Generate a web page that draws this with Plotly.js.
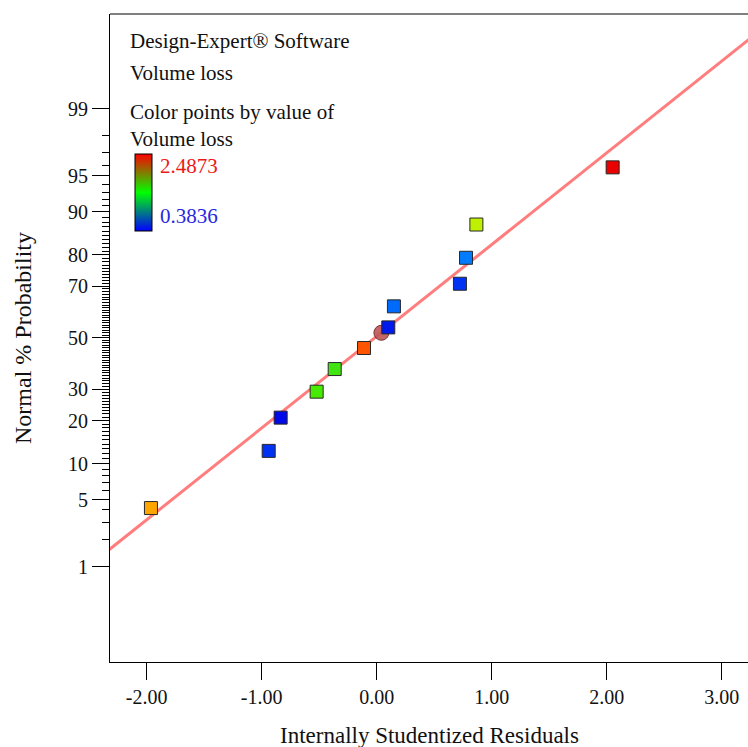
<!DOCTYPE html>
<html>
<head>
<meta charset="utf-8">
<script src="https://cdn.plot.ly/plotly-3.0.1.min.js"></script>
<style>html,body{margin:0;padding:0;background:#fff;}#chart{width:748px;height:747px;}</style>
</head>
<body>
<div id="chart"></div>
<script>
// ---- data ----
const residuals = [-1.963, -0.939, -0.835, -0.522, -0.365, -0.110, 0.101, 0.150, 0.724, 0.777, 0.867, 2.052];
const normalPct = [4.17, 12.5, 20.83, 29.17, 37.5, 45.83, 54.17, 62.5, 70.83, 79.17, 87.5, 95.83];
const volumeLoss = [2.067, 0.594, 0.42, 1.435, 1.40, 2.277, 0.489, 0.804, 0.594, 0.867, 1.856, 2.4873];
const centerResidual = [0.041];
const centerPct = [52.0];
const fitResidual = [-2.4, 3.3];
const fitPct = [1.31, 99.90];
const volumeMin = 0.3836;
const volumeMax = 2.4873;
const xTickVals = [-2, -1, 0, 1, 2, 3];
const xTickText = ['-2.00', '-1.00', '0.00', '1.00', '2.00', '3.00'];
const yTickPct = [1, 5, 10, 20, 30, 50, 70, 80, 90, 95, 99];
const yTickText = ['1', '5', '10', '20', '30', '50', '70', '80', '90', '95', '99'];
const yMinorPct = Array.from({length: 99}, (_, i) => i + 1).filter(v => !yTickPct.includes(v));

// ---- probability (probit) scale ----
function normInv(p) {
  const a = [-3.969683028665376e+01, 2.209460984245205e+02, -2.759285104469687e+02, 1.383577518672690e+02, -3.066479806614716e+01, 2.506628277459239e+00];
  const b = [-5.447609879822406e+01, 1.615858368580409e+02, -1.556989798598866e+02, 6.680131188771972e+01, -1.328068155288572e+01];
  const c = [-7.784894002430293e-03, -3.223964580411365e-01, -2.400758277161838e+00, -2.549732539343734e+00, 4.374664141464968e+00, 2.938163982698783e+00];
  const d = [7.784695709041462e-03, 3.224671290700398e-01, 2.445134137142996e+00, 3.754408661907416e+00];
  const pl = 0.02425, ph = 1 - pl;
  let q, r;
  if (p < pl) {
    q = Math.sqrt(-2 * Math.log(p));
    return (((((c[0]*q+c[1])*q+c[2])*q+c[3])*q+c[4])*q+c[5]) / ((((d[0]*q+d[1])*q+d[2])*q+d[3])*q+1);
  }
  if (p <= ph) {
    q = p - 0.5; r = q * q;
    return (((((a[0]*r+a[1])*r+a[2])*r+a[3])*r+a[4])*r+a[5])*q / (((((b[0]*r+b[1])*r+b[2])*r+b[3])*r+b[4])*r+1);
  }
  q = Math.sqrt(-2 * Math.log(1 - p));
  return -(((((c[0]*q+c[1])*q+c[2])*q+c[3])*q+c[4])*q+c[5]) / ((((d[0]*q+d[1])*q+d[2])*q+d[3])*q+1);
}
const probit = pct => normInv(pct / 100);

const FONT = 'Liberation Serif, Times New Roman, serif';
const pointScale = [[0,'rgb(0,0,230)'],[0.12,'rgb(0,60,245)'],[0.25,'rgb(0,135,255)'],[0.5,'rgb(70,235,0)'],[0.7,'rgb(190,240,0)'],[0.8,'rgb(255,165,0)'],[0.9,'rgb(255,85,0)'],[1,'rgb(235,0,0)']];
const barScale = [[0,'rgb(0,0,255)'],[0.5,'rgb(0,255,0)'],[1,'rgb(255,0,0)']];

const traces = [
  { // colour legend bar
    type: 'scatter', mode: 'markers', x: residuals, y: normalPct.map(probit),
    hoverinfo: 'skip', showlegend: false,
    marker: { opacity: 0, color: volumeLoss, cmin: volumeMin, cmax: volumeMax, colorscale: barScale, showscale: true,
      colorbar: { thickness: 17, thicknessmode: 'pixels', len: 77, lenmode: 'pixels',
        x: 0.039, xanchor: 'left', y: 0.7245, yanchor: 'middle', xpad: 0, ypad: 0,
        outlinewidth: 1, outlinecolor: '#000', borderwidth: 0, showticklabels: false, ticks: '' } }
  },
  { // fitted normal line
    type: 'scatter', mode: 'lines', x: fitResidual, y: fitPct.map(probit), showlegend: false,
    line: { color: 'rgb(255,125,125)', width: 3 }, hoverinfo: 'skip'
  },
  { // highlighted run
    type: 'scatter', mode: 'markers', x: centerResidual, y: centerPct.map(probit), showlegend: false,
    marker: { symbol: 'circle', size: 15, color: 'rgba(190,85,85,0.9)', line: { color: 'rgb(120,50,50)', width: 1 } }
  },
  { // residual points
    type: 'scatter', mode: 'markers', x: residuals, y: normalPct.map(probit), showlegend: false,
    marker: { symbol: 'square', size: 13, color: volumeLoss, cmin: volumeMin, cmax: volumeMax, colorscale: pointScale,
      showscale: false, line: { color: 'rgb(40,40,40)', width: 1 } }
  }
];

const annText = (text, x, y, opts = {}) => Object.assign({
  text, x, y, xref: 'paper', yref: 'paper', xanchor: 'left', yanchor: 'middle', showarrow: false, align: 'left',
  font: { family: FONT, size: 21, color: '#111' }
}, opts);

const layout = {
  width: 748, height: 747,
  margin: { l: 110, r: 0, t: 14, b: 85 },
  paper_bgcolor: '#fff', plot_bgcolor: '#fff',
  showlegend: false,
  xaxis: {
    range: [-2.319, 3.229], tickmode: 'array', tickvals: xTickVals, ticktext: xTickText,
    ticks: 'outside', ticklen: 17, tickwidth: 1, tickcolor: '#000',
    showline: true, linecolor: '#000', linewidth: 1, showgrid: false, zeroline: false,
    tickfont: { family: FONT, size: 20, color: '#111' }
  },
  yaxis: {
    range: [-3.296, 3.29], tickmode: 'array', tickvals: yTickPct.map(probit), ticktext: yTickText,
    ticks: 'outside', ticklen: 17, tickwidth: 1, tickcolor: '#000',
    minor: { tickmode: 'array', tickvals: yMinorPct.map(probit), ticks: 'outside', ticklen: 7, tickwidth: 1, tickcolor: '#000', showgrid: false },
    showline: true, linecolor: '#000', linewidth: 1, showgrid: false, zeroline: false,
    tickfont: { family: FONT, size: 20, color: '#111' }
  },
  shapes: [
    { type: 'line', xref: 'paper', yref: 'paper', x0: 0, x1: 1, y0: 1, y1: 1, line: { color: '#000', width: 1 } }
  ],
  annotations: [
    annText('Design-Expert® Software', 0.0282, 0.958),
    annText('Volume loss', 0.0282, 0.9094),
    annText('Color points by value of<br>Volume loss', 0.0282, 0.8274),
    annText(volumeMax.toFixed(4), 0.0752, 0.7659, { font: { family: FONT, size: 21, color: 'rgb(235,25,25)' } }),
    annText(volumeMin.toFixed(4), 0.0752, 0.6883, { font: { family: FONT, size: 21, color: 'rgb(40,40,225)' } }),
    annText('Internally Studentized Residuals', 0.5, -0.1127, { xanchor: 'center', font: { family: FONT, size: 23, color: '#111' } }),
    annText('Normal % Probability', -0.1364, 0.5, { xanchor: 'center', textangle: -90, font: { family: FONT, size: 24, color: '#111' } })
  ]
};

Plotly.newPlot('chart', traces, layout, { staticPlot: true, displayModeBar: false });
</script>
</body>
</html>
